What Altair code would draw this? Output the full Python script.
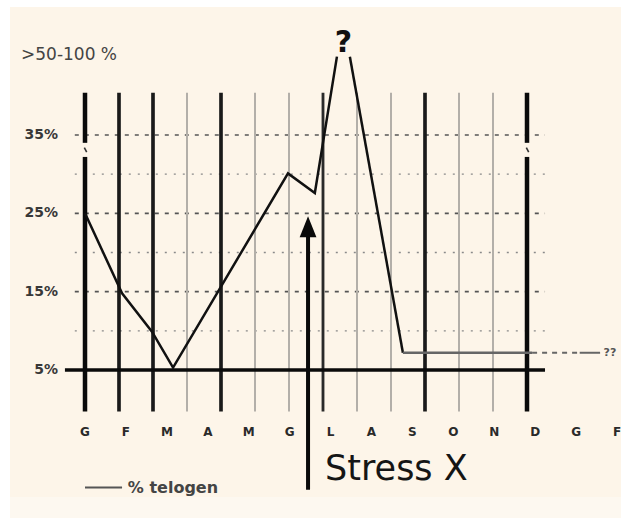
import altair as alt
import pandas as pd

# ---- data ----
months = ["G", "F", "M", "A", "M", "G", "L", "A", "S", "O", "N", "D", "G", "F"]
month_line_idx = list(range(14))
month_line_shade = ["edge", "dark", "dark", "light", "dark", "light", "light",
                    "thin", "light", "light", "dark", "light", "light", "edge"]
grid_levels = [35, 30, 25, 20, 15, 10]
grid_kind = ["major", "minor", "major", "minor", "major", "minor"]
ytick_values = [35, 25, 15, 5]
ytick_labels = ["35%", "25%", "15%", "5%"]

rise_m = [0, 1.09, 1.97, 2.59, 5.97, 6.76, 7.41]
rise_v = [25, 14.8, 9.9, 5.3, 30.1, 27.6, 45]
fall_m = [7.79, 9.35]
fall_v = [45, 7.2]
plateau_m = [9.35, 13.15]
plateau_v = [7.2, 7.2]
tail_dash_m = [13.15, 14.55]
tail_solid_m = [14.55, 15.15]
tail_v = 7.2

stress_m = 6.56

CREAM = "#fdf5e9"

xs = alt.Scale(domain=[0, 13], range=[85, 527], nice=False, zero=False)
xl = alt.Scale(domain=[0, 13], range=[85, 617], nice=False, zero=False)
ys = alt.Scale(domain=[5, 35], range=[370, 135], nice=False, zero=False)


def X(field, **kw):
    return alt.X(field, type="quantitative", scale=xs, axis=None, **kw)


def Y(field, **kw):
    return alt.Y(field, type="quantitative", scale=ys, axis=None, **kw)


# background
bg = alt.Chart(pd.DataFrame({"a": [0]})).mark_rect(color=CREAM).encode(
    x=alt.value(10), x2=alt.value(621), y=alt.value(7), y2=alt.value(518))
bg2 = alt.Chart(pd.DataFrame({"a": [0]})).mark_rect(color="#fdf8f0").encode(
    x=alt.value(10), x2=alt.value(621), y=alt.value(497), y2=alt.value(518))

# horizontal dotted grid
grid_df = pd.DataFrame({"v": grid_levels, "kind": grid_kind,
                        "x0": [-0.3] * 6, "x1": [13.53] * 6})
grid_major = alt.Chart(grid_df).transform_filter("datum.kind == 'major'").mark_rule(
    color="#555", strokeWidth=1.6, strokeDash=[4, 6]).encode(
    x=X("x0"), x2="x1", y=Y("v"))
grid_minor = alt.Chart(grid_df).transform_filter("datum.kind == 'minor'").mark_rule(
    color="#8a8a8a", strokeWidth=1.4, strokeDash=[2, 7]).encode(
    x=X("x0"), x2="x1", y=Y("v"))

# vertical month lines
vl_df = pd.DataFrame({"m": month_line_idx, "shade": month_line_shade,
                      "top": [40.4] * 14, "bot": [-0.3] * 14})
vcolor = alt.Color("shade:N", legend=None,
                   scale=alt.Scale(domain=["edge", "dark", "thin", "light"],
                                   range=["#0a0a0a", "#1a1a1a", "#2a2a2a", "#b3afa9"]))
vwidth = alt.StrokeWidth("shade:N", legend=None,
                         scale=alt.Scale(domain=["edge", "dark", "thin", "light"],
                                         range=[4.5, 2.0, 1.5, 2.6]))
vlines = alt.Chart(vl_df).mark_rule().encode(
    x=X("m"), y=Y("top"), y2="bot", color=vcolor, strokeWidth=vwidth)

# breaks on edge lines
brk_df = pd.DataFrame({"m": [0, 13], "a": [34.0, 34.0], "b": [32.2, 32.2]})
breaks = alt.Chart(brk_df).mark_rule(color=CREAM, strokeWidth=8).encode(
    x=X("m"), y=Y("a"), y2="b")
brk_tick = alt.Chart(brk_df).transform_calculate(
    m1="datum.m - 0.02", m2="datum.m + 0.05", ya="33.4", yb="32.8").mark_rule(
    color="#333", strokeWidth=1.6).encode(
    x=X("m1:Q"), x2="m2:Q", y=Y("ya:Q"), y2="yb:Q")

# x axis base line
axis_df = pd.DataFrame({"x0": [-0.59], "x1": [13.53], "v": [5]})
baseline = alt.Chart(axis_df).mark_rule(color="#0a0a0a", strokeWidth=3.5).encode(
    x=X("x0"), x2="x1", y=Y("v"))

# y labels
ylab_df = pd.DataFrame({"v": ytick_values, "t": ytick_labels})
ylabels = alt.Chart(ylab_df).mark_text(
    align="right", baseline="middle", fontSize=14, fontWeight="bold",
    font="DejaVu Sans", color="#383838").encode(
    x=alt.value(58), y=Y("v"), text="t:N")
toplab = alt.Chart(pd.DataFrame({"t": [">50-100 %"], "v": [45.2]})).mark_text(
    align="left", baseline="middle", fontSize=17, font="DejaVu Sans",
    color="#444").encode(x=alt.value(21), y=Y("v"), text="t:N")

# month labels
mon_df = pd.DataFrame({"i": list(range(14)), "t": months, "v": [-2.9] * 14})
mlabels = alt.Chart(mon_df).mark_text(
    align="center", baseline="middle", fontSize=12, fontWeight="bold",
    font="DejaVu Sans", color="#2a2a2a").encode(
    x=alt.X("i", type="quantitative", scale=xl, axis=None), y=Y("v"), text="t:N")

# telogen line
rise = alt.Chart(pd.DataFrame({"m": rise_m, "v": rise_v})).mark_line(
    color="#111", strokeWidth=2.5).encode(x=X("m"), y=Y("v"), order="m:Q")
fall = alt.Chart(pd.DataFrame({"m": fall_m, "v": fall_v})).mark_line(
    color="#111", strokeWidth=2.5).encode(x=X("m"), y=Y("v"))
plateau = alt.Chart(pd.DataFrame({"m": plateau_m, "v": plateau_v})).mark_line(
    color="#666", strokeWidth=2.3).encode(x=X("m"), y=Y("v"))
tail_d = alt.Chart(pd.DataFrame({"m": tail_dash_m, "v": [tail_v] * 2})).mark_line(
    color="#666", strokeWidth=2, strokeDash=[5, 5]).encode(x=X("m"), y=Y("v"))
tail_s = alt.Chart(pd.DataFrame({"m": tail_solid_m, "v": [tail_v] * 2})).mark_line(
    color="#666", strokeWidth=2).encode(x=X("m"), y=Y("v"))
tail_t = alt.Chart(pd.DataFrame({"m": [15.25], "v": [tail_v], "t": ["??"]})).mark_text(
    align="left", baseline="middle", fontSize=11, fontWeight="bold",
    font="DejaVu Sans", color="#555").encode(x=X("m"), y=Y("v"), text="t:N")

qmark = alt.Chart(pd.DataFrame({"m": [7.6], "v": [46.8], "t": ["?"]})).mark_text(
    align="center", baseline="middle", fontSize=30, fontWeight="bold",
    font="DejaVu Sans", color="#111").encode(x=X("m"), y=Y("v"), text="t:N")

# stress arrow
arrow_df = pd.DataFrame({"m": [stress_m], "a": [22.6], "b": [-10.3], "h": [23.3]})
shaft = alt.Chart(arrow_df).mark_rule(color="#0a0a0a", strokeWidth=4).encode(
    x=X("m"), y=Y("a"), y2="b")
head = alt.Chart(arrow_df).mark_point(
    shape="M0,-1L0.8,1L-0.8,1Z", size=440, filled=True, color="#0a0a0a",
    opacity=1).encode(x=X("m"), y=Y("h"))
stress_t = alt.Chart(pd.DataFrame({"m": [7.06], "v": [-9.1], "t": ["Stress X"]})).mark_text(
    align="left", baseline="alphabetic", fontSize=35, font="DejaVu Sans",
    color="#151515").encode(x=X("m"), y=Y("v"), text="t:N")

# legend
leg_df = pd.DataFrame({"x0": [0], "x1": [1.09], "v": [-10.0]})
leg_line = alt.Chart(leg_df).mark_rule(color="#555", strokeWidth=2).encode(
    x=X("x0"), x2="x1", y=Y("v"))
leg_text = alt.Chart(pd.DataFrame({"m": [1.26], "v": [-10.0], "t": ["% telogen"]})).mark_text(
    align="left", baseline="middle", fontSize=16, fontWeight="bold",
    font="DejaVu Sans", color="#444").encode(x=X("m"), y=Y("v"), text="t:N")

chart = alt.layer(
    bg, bg2, grid_minor, grid_major, vlines, breaks, brk_tick, baseline,
    ylabels, toplab, mlabels, rise, fall, plateau, tail_d, tail_s, tail_t,
    qmark, shaft, head, stress_t, leg_line, leg_text
).resolve_scale(x="independent", color="independent", strokeWidth="independent").properties(
    width=621, height=518, padding=0, autosize=alt.AutoSizeParams(type="none"),
    background="white"
).configure_view(stroke=None)

chart.save("out.html", embed_options={"renderer": "svg", "actions": False})
